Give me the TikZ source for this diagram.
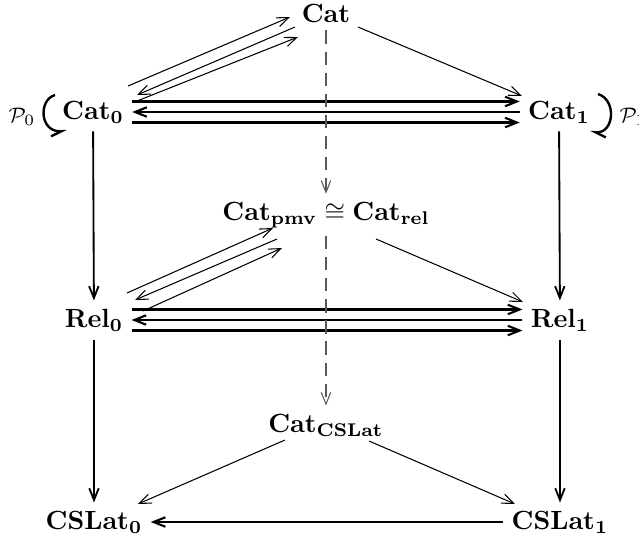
\documentclass[tikz,border=0pt]{standalone}
\usepackage{amsmath}
\usepackage{amssymb}
\usepackage{tikz}
\usetikzlibrary{arrows.meta}
\usetikzlibrary{positioning}

\begin{document}
\begin{tikzpicture}[x=0.38pt, y=-0.38pt,
    obj/.style={inner sep=3pt},
    tip/.style={-{Straight Barb[length=4.5pt,width=3.6pt]}},
    triple/.style={tip, line width=0.8pt},
    vert/.style={tip, line width=0.7pt},
    diag/.style={tip, line width=0.4pt},
    proj/.style={tip, line width=0.4pt, gray!70!black, dash pattern=on 5pt off 3pt},
    loopy/.style={line width=0.9pt}]

    % 0. Fix the page to the size of the picture
    \useasboundingbox (0,0) rectangle (639,539);

    % 1. The objects of the cube
    \node[obj] (cat) at (326,13) {$\mathbf{Cat}$};
    \node[obj] (c0) at (93,112) {$\mathbf{Cat_0}$};
    \node[obj] (c1) at (559,112) {$\mathbf{Cat_1}$};
    \node[obj] (pmv) at (326,215) {$\mathbf{Cat_{pmv}}\cong\mathbf{Cat_{rel}}$};
    \node[obj] (r0) at (94,320) {$\mathbf{Rel_0}$};
    \node[obj] (r1) at (560,320) {$\mathbf{Rel_1}$};
    \node[obj] (csc) at (326,425) {$\mathbf{Cat_{CSLat}}$};
    \node[obj] (s0) at (94,522) {$\mathbf{CSLat_0}$};
    \node[obj] (s1) at (560,522) {$\mathbf{CSLat_1}$};

    % 2. Labels of the loops
    \node (p0) at (22,117) {\footnotesize$\mathcal{P}_0$};
    \node (p1) at (633,117) {\footnotesize$\mathcal{P}_1$};

    % 3. Top row: three parallel arrows
    \draw[triple] ([yshift=4pt]c0.east) -- ([yshift=4pt]c1.west);
    \draw[triple] (c1.west) -- (c0.east);
    \draw[triple] ([yshift=-4pt]c0.east) -- ([yshift=-4pt]c1.west);

    % 4. Middle row: three parallel arrows
    \draw[triple] ([yshift=4pt]r0.east) -- ([yshift=4pt]r1.west);
    \draw[triple] (r1.west) -- (r0.east);
    \draw[triple] ([yshift=-4pt]r0.east) -- ([yshift=-4pt]r1.west);

    % 5. Bottom row
    \draw[triple] (s1.west) -- (s0.east);

    % 6. Vertical arrows on both sides
    \draw[vert] (c0) -- (r0);
    \draw[vert] (r0) -- (s0);
    \draw[vert] (c1) -- (r1);
    \draw[vert] (r1) -- (s1);

    % 7. Dashed arrows down the middle
    \draw[proj] (cat) -- (pmv);
    \draw[proj] (pmv) -- (csc);

    % 8. Slanted arrows into and out of the middle column
    \draw[diag] ([shift={(35,-26)}]c0.center) -- ([shift={(-36,4)}]cat.center);
    \draw[diag] ([shift={(-31,14)}]cat.center) -- ([shift={(44,-17)}]c0.center);
    \draw[diag] ([shift={(44,-11)}]c0.center) -- ([shift={(-28,24)}]cat.center);
    \draw[diag] ([shift={(32,14)}]cat.center) -- ([shift={(-37,-16)}]c1.center);

    \draw[diag] ([shift={(33,-27)}]r0.center) -- ([shift={(-53,13)}]pmv.center);
    \draw[diag] ([shift={(-49,24)}]pmv.center) -- ([shift={(41,-20)}]r0.center);
    \draw[diag] ([shift={(49,-9)}]r0.center) -- ([shift={(-44,33)}]pmv.center);
    \draw[diag] ([shift={(50,24)}]pmv.center) -- ([shift={(-37,-18)}]r1.center);

    \draw[diag] ([shift={(-41,15)}]csc.center) -- ([shift={(44,-18)}]s0.center);
    \draw[diag] ([shift={(43,16)}]csc.center) -- ([shift={(-45,-18)}]s1.center);

    % 9. Loops on the two corners, with a half barb at the end
    \draw[loopy, -{Straight Barb[harpoon,swap,length=4pt,width=3.6pt]}] ([shift={(-38,-17)}]c0.center) .. controls ([shift={(-55,-12)}]c0.center) and ([shift={(-53,20)}]c0.center) .. ([shift={(-26,19)}]c0.center);
    \draw[loopy, -{Straight Barb[harpoon,length=4pt,width=3.6pt]}] ([shift={(39,-18)}]c1.center) .. controls ([shift={(58,-12)}]c1.center) and ([shift={(55,21)}]c1.center) .. ([shift={(31,20)}]c1.center);

\end{tikzpicture}
\end{document}
